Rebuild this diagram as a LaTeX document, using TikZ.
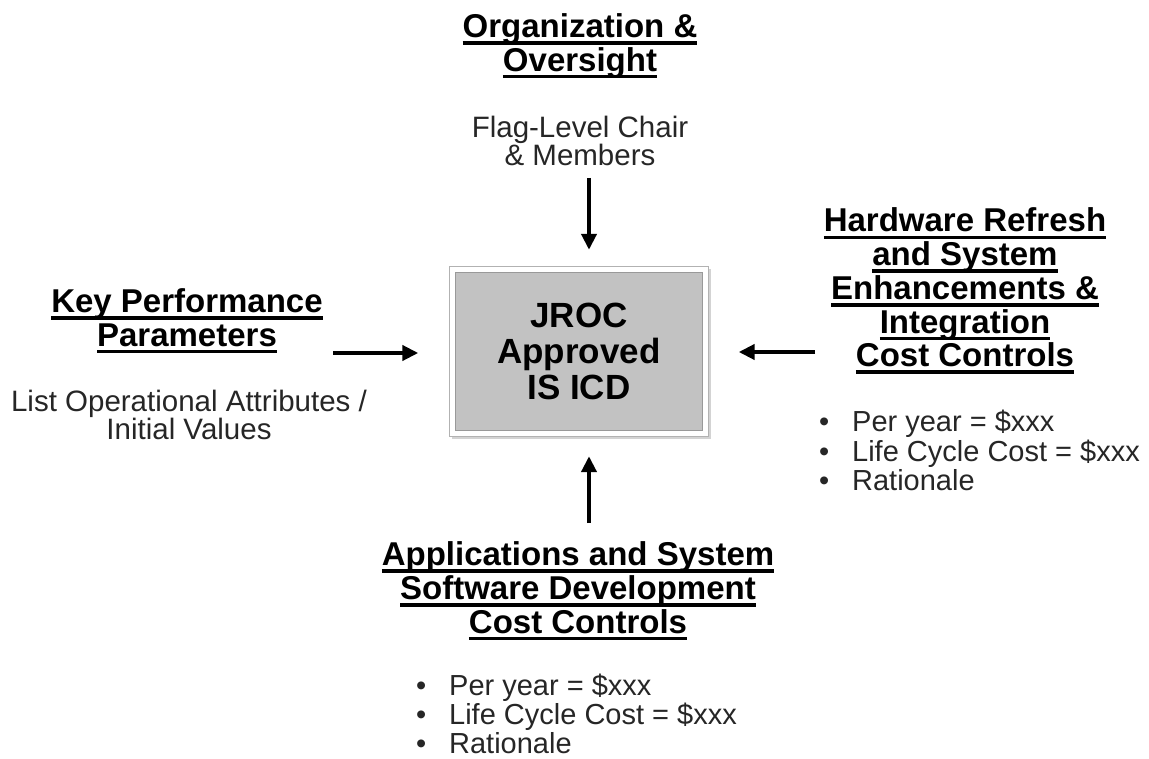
\documentclass[tikz,border=0pt]{standalone}
\usepackage{fontspec}
\setmainfont{Liberation Sans}
\usetikzlibrary{arrows.meta,shadows}

% heading lines are underlined one by one, with a heavy rule
\newcommand\hdul[1]{\setbox0\hbox{#1}\rlap{\rule[-7.3pt]{\wd0}{3.6pt}}\box0}
\newcommand\blt{\makebox[33pt][l]{\textbullet}}

\begin{document}
\begin{tikzpicture}[x=1pt,y=-1pt,
  head/.style   = {font=\bfseries\fontsize{33}{33.7}\selectfont, align=center, inner sep=0pt},
  body/.style   = {font=\fontsize{29.5}{27.5}\selectfont, align=center, inner sep=0pt, text=black!85},
  blist/.style  = {font=\fontsize{29}{29.5}\selectfont, align=left, inner sep=0pt,
                   anchor=north west, text=black!85},
  icdbox/.style = {draw=black!30, fill=white, minimum width=259pt, minimum height=170pt,
                   drop shadow={opacity=0.35, shadow xshift=2pt, shadow yshift=-3pt}},
  icdfill/.style= {draw=black!40, fill=black!24, minimum width=247pt, minimum height=158pt,
                   font=\bfseries\fontsize{35}{36}\selectfont, align=center},
  feed/.style   = {line width=4.5pt, -{Triangle[length=16pt,width=15pt]}},
]
  \useasboundingbox (0,0) rectangle (1149,759);

  \node[icdbox] (icd) at (579,351) {};
  \node[icdfill] (icdin) at (icd.center) {JROC\\Approved\\IS ICD};

  \node[head] (org) at (580,46) {\hdul{Organization \&}\\\hdul{Oversight}};
  \node[body] (flag) at (580,141) {Flag-Level Chair\\\& Members};

  \node[head] (kpp) at (187,321) {\hdul{Key Performance}\\\hdul{Parameters}};
  \node[body] (attr) at (189,415) {List Operational Attributes /\\Initial Values};

  \node[head] (hw) at (965,291) {\hdul{Hardware Refresh}\\\hdul{and System}\\
    \hdul{Enhancements \&}\\\hdul{Integration}\\\hdul{Cost Controls}};
  \node[blist] (hwcost) at (819,410) {\blt Per year = \$xxx\\\blt Life Cycle Cost = \$xxx\\\blt Rationale};

  \node[head] (app) at (578,591) {\hdul{Applications and System}\\\hdul{Software Development}\\
    \hdul{Cost Controls}};
  \node[blist,font=\fontsize{29}{29}\selectfont] (appcost) at (416,674)
    {\blt Per year = \$xxx\\\blt Life Cycle Cost = \$xxx\\\blt Rationale};

  % the four inputs; tails are free, heads stop short of the box
  \coordinate (org in) at (589,178);
  \coordinate (kpp in) at (333,353);
  \coordinate (hw in)  at (815,352);
  \coordinate (app in) at (589,523);

  \draw[feed,shorten >=16pt] (org in) -- (org in |- icd.north);
  \draw[feed,shorten >=31pt] (kpp in) -- (kpp in -| icd.west);
  \draw[feed,shorten >=30pt] (hw in) -- (hw in -| icd.east);
  \draw[feed,shorten >=20pt] (app in) -- (app in |- icd.south);
\end{tikzpicture}
\end{document}
